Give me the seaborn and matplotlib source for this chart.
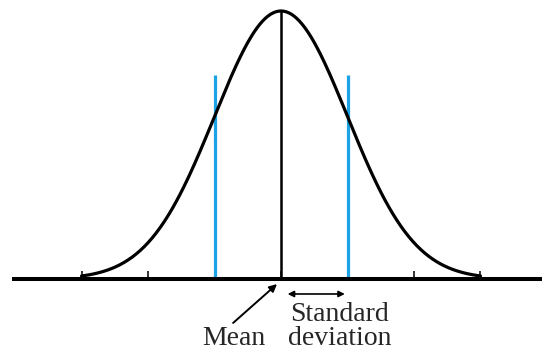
import numpy as np
import matplotlib
matplotlib.use('Agg')
import matplotlib.pyplot as plt
import seaborn as sns

# normal curve, x in standard deviations, height relative to the peak
mean = 0.0
sd = 1.0
z = np.linspace(-3, 3, 301)
density = np.exp(-0.5 * ((z - mean) / sd) ** 2)

sd_ticks = [-3, -2, -1, 0, 1, 2, 3]
sd_lines = [-1, 1]
sd_line_height = 0.76

sns.set_style('white')
serif = ['Liberation Serif', 'DejaVu Serif']

fig = plt.figure(figsize=(5.42, 3.5), dpi=100)
ax = fig.add_axes([0, 0, 1, 1])

# axis line and little tick marks
ax.plot([-4.045, 4.5], [0, 0], color='black', lw=2.9, solid_capstyle='butt', zorder=3)
ax.vlines(sd_ticks, 0, 0.03, color='black', lw=1.1, zorder=2)

# the bell curve
sns.lineplot(x=z, y=density, color='black', lw=2.3, ax=ax, zorder=4)

# mean line and one-sd lines
ax.vlines([mean], 0, 1.0, color='black', lw=1.8, zorder=3)
ax.vlines(sd_lines, 0, sd_line_height, color='#1ba3e6', lw=2.3, zorder=2)

# labels
ax.annotate('', xy=(-0.06, -0.019), xytext=(-0.72, -0.164),
            arrowprops=dict(arrowstyle='-|>', lw=1.4, color='black', mutation_scale=11,
                            shrinkA=0, shrinkB=0))
ax.annotate('', xy=(0.10, -0.056), xytext=(0.96, -0.056),
            arrowprops=dict(arrowstyle='<|-|>', lw=1.2, color='black', mutation_scale=9,
                            shrinkA=0, shrinkB=0))
ax.text(-0.707, -0.246, 'Mean', ha='center', va='baseline', fontsize=20, family=serif)
ax.text(0.88, -0.246, 'Standard\ndeviation', ha='center', va='baseline',
        multialignment='center', linespacing=0.95, fontsize=20, family=serif)

ax.set_xlim(-4.226, 3.925)
ax.set_ylim(-0.265, 1.041)
ax.axis('off')

fig.savefig('out.png', dpi=100)
